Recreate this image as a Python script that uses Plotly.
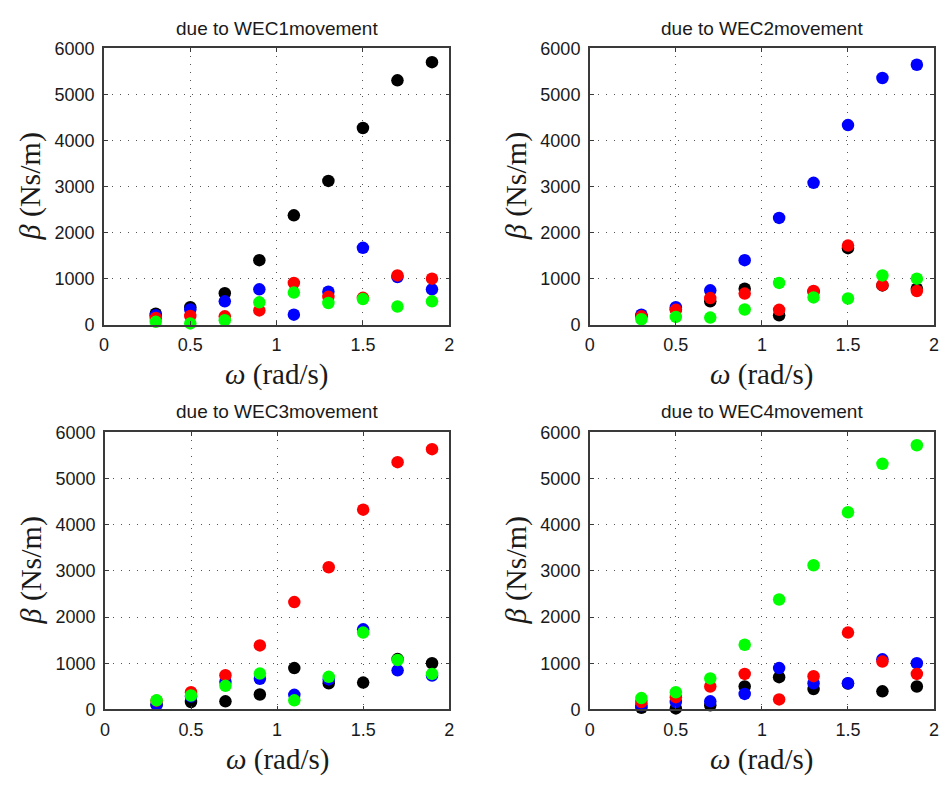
import plotly.graph_objects as go

omega = [0.3, 0.5, 0.7, 0.9, 1.1, 1.3, 1.5, 1.7, 1.9]

# due to WEC1 movement
p1_black = [246, 387, 690, 1408, 2380, 3127, 4275, 5310, 5704]
p1_blue = [211, 338, 514, 775, 225, 725, 1676, 1040, 775]
p1_red = [155, 197, 190, 317, 915, 613, 590, 1077, 1007]
p1_green = [70, 35, 106, 493, 704, 479, 563, 401, 514]

# due to WEC2 movement
p2_black = [200, 340, 514, 789, 211, 720, 1669, 860, 790]
p2_blue = [225, 387, 754, 1408, 2324, 3085, 4338, 5359, 5648]
p2_red = [190, 331, 585, 683, 331, 739, 1725, 866, 739]
p2_green = [127, 176, 162, 338, 915, 599, 577, 1077, 1007]

# due to WEC3 movement
p3_black = [100, 161, 175, 322, 895, 566, 580, 1090, 1000]
p3_blue = [105, 280, 601, 664, 315, 650, 1734, 846, 734]
p3_red = [190, 371, 741, 1385, 2324, 3077, 4324, 5352, 5634]
p3_green = [196, 301, 510, 776, 196, 706, 1664, 1070, 769]

# due to WEC4 movement
p4_black = [35, 21, 91, 497, 699, 440, 560, 392, 497]
p4_blue = [91, 161, 175, 336, 895, 566, 566, 1084, 1000]
p4_red = [161, 266, 497, 769, 217, 720, 1664, 1035, 769]
p4_green = [245, 371, 671, 1399, 2380, 3120, 4268, 5317, 5718]

titles = ["due to WEC1movement", "due to WEC2movement",
          "due to WEC3movement", "due to WEC4movement"]
panels = [
    [p1_black, p1_blue, p1_red, p1_green],
    [p2_black, p2_blue, p2_red, p2_green],
    [p3_black, p3_blue, p3_red, p3_green],
    [p4_black, p4_blue, p4_red, p4_green],
]
colors = ["#000000", "#0000FF", "#FF0000", "#00FF00"]
xticks = [0, 0.5, 1, 1.5, 2]
xticklabels = ["0", "0.5", "1", "1.5", "2"]
yticks = [0, 1000, 2000, 3000, 4000, 5000, 6000]
yticklabels = ["0", "1000", "2000", "3000", "4000", "5000", "6000"]

W, H = 946, 785
# plot-area pixel boxes (left, right, top, bottom)
boxes = [(100, 449, 39.5, 323.3), (591, 939, 39.5, 323.3),
         (101, 449, 433.3, 717.7), (591, 939, 433.3, 717.7)]

fig = go.Figure()
layout = dict(width=W, height=H, margin=dict(l=0, r=0, t=0, b=0),
              paper_bgcolor="white", plot_bgcolor="white", showlegend=False)
annotations = []
axis_color = "#3a3a3a"
tickfont = dict(family="Liberation Sans, Arial", size=18, color="#1a1a1a")

for i, (series, title, box) in enumerate(zip(panels, titles, boxes)):
    n = "" if i == 0 else str(i + 1)
    l, r, t, b = box
    xd = [l / W, r / W]
    yd = [1 - b / H, 1 - t / H]
    for vals, c in zip(series, colors):
        fig.add_trace(go.Scatter(x=omega, y=vals, mode="markers",
                                 marker=dict(color=c, size=12.5, line=dict(width=0)),
                                 cliponaxis=False, xaxis="x" + n, yaxis="y" + n))
    layout["xaxis" + n] = dict(domain=xd, range=[0, 2], anchor="y" + n,
                               tickvals=xticks, ticktext=xticklabels,
                               showgrid=True, gridcolor="#555555", gridwidth=1,
                               griddash="1px,7px", zeroline=False,
                               showline=True, linecolor=axis_color, linewidth=1.5,
                               mirror="ticks", ticks="inside", ticklen=4,
                               tickcolor=axis_color, tickfont=tickfont,
                               ticklabelstandoff=3)
    layout["yaxis" + n] = dict(domain=yd, range=[0, 6000], anchor="x" + n,
                               tickvals=yticks, ticktext=yticklabels,
                               showgrid=True, gridcolor="#555555", gridwidth=1,
                               griddash="1px,7px", zeroline=False,
                               showline=True, linecolor=axis_color, linewidth=1.5,
                               mirror="ticks", ticks="inside", ticklen=4,
                               tickcolor=axis_color, tickfont=tickfont,
                               ticklabelstandoff=4)
    cx = (l + r) / 2
    cy = (t + b) / 2
    annotations.append(dict(text=title, x=cx / W, y=1 - (t - 21) / H,
                            xref="paper", yref="paper", showarrow=False,
                            xanchor="center", yanchor="middle",
                            font=dict(family="Liberation Sans, Arial", size=19, color="#1a1a1a")))
    annotations.append(dict(text="<i>ω</i> (rad/s)", x=cx / W, y=1 - (b + 51) / H,
                            xref="paper", yref="paper", showarrow=False,
                            xanchor="center", yanchor="middle",
                            font=dict(family="Liberation Serif, serif", size=29, color="#1a1a1a")))
    annotations.append(dict(text="<i>β</i> (Ns/m)", x=(l - 75) / W, y=1 - cy / H,
                            xref="paper", yref="paper", showarrow=False, textangle=-90,
                            xanchor="center", yanchor="middle",
                            font=dict(family="Liberation Serif, serif", size=30, color="#1a1a1a")))

layout["annotations"] = annotations
fig.update_layout(**layout)
fig.write_html("out.html")
